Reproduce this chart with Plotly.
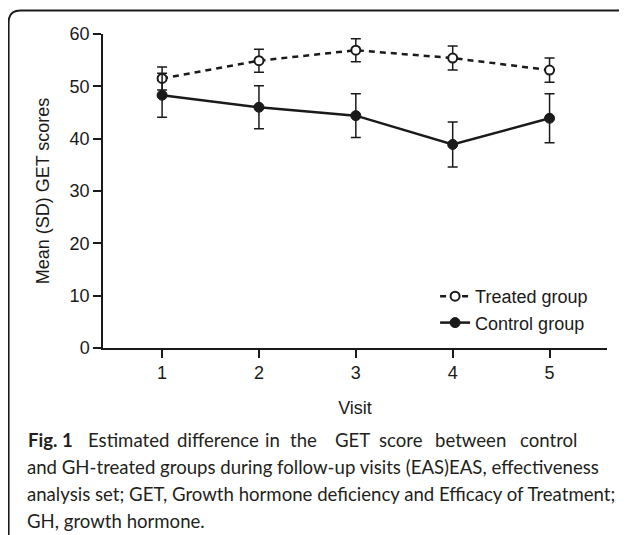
import plotly.graph_objects as go

visits = [1, 2, 3, 4, 5]
tick_labels = ["1", "2", "3", "4", "5"]
treated_mean = [51.5, 54.9, 56.9, 55.4, 53.1]
treated_sd = [2.2, 2.2, 2.2, 2.3, 2.3]
control_mean = [48.3, 46.0, 44.4, 38.9, 43.9]
control_sd = [4.2, 4.1, 4.2, 4.3, 4.7]
y_ticks = [0, 10, 20, 30, 40, 50, 60]

caption_line1_words = ["<b>Fig. 1</b>", "Estimated", "difference", "in", "the",
                       "GET", "score", "between", "control"]
caption_lines_rest = [
    "and GH-treated groups during follow-up visits (EAS)EAS, effectiveness",
    "analysis set; GET, Growth hormone deficiency and Efficacy of Treatment;",
    "GH, growth hormone.",
]

# page offset (browser body margin)
OFF = 8
W, H = 627 - OFF, 535 - OFF
# plot area in window pixels
PX0, PX1, PY0, PY1 = 103.3, 606.7, 34, 348
L = PX0 - OFF
R = W - (PX1 - OFF)
T = PY0 - OFF
B = H - (PY1 - OFF)
pw = W - L - R
ph = H - T - B

def px(x):
    return (x - OFF - L) / pw

def py(y):
    return (H - B - (y - OFF)) / ph

ink = "#1a1a1a"
fnt = "Liberation Sans, Arial, sans-serif"
cap_font = dict(family="Lato, Noto Sans, sans-serif", size=18.6, color="#231f20")

fig = go.Figure()
fig.add_trace(go.Scatter(
    x=visits, y=treated_mean, name="Treated group", mode="lines+markers",
    line=dict(color=ink, width=2.5, dash="6px,5px"),
    marker=dict(symbol="circle", size=9, color="white", line=dict(color=ink, width=2)),
    error_y=dict(type="data", array=treated_sd, visible=True, color=ink, thickness=1.5, width=5),
))
fig.add_trace(go.Scatter(
    x=visits, y=control_mean, name="Control group", mode="lines+markers",
    line=dict(color=ink, width=2.5),
    marker=dict(symbol="circle", size=10, color=ink, line=dict(color=ink, width=1)),
    error_y=dict(type="data", array=control_sd, visible=True, color=ink, thickness=1.5, width=5),
))

# Outer rounded frame
x0, y0, r = 9, 10.5, 12
path = (f"M {px(x0)},{py(H + OFF + 10)} L {px(x0)},{py(y0 + r)} "
        f"Q {px(x0)},{py(y0)} {px(x0 + r)},{py(y0)} L {px(626)},{py(y0)}")
fig.add_shape(type="path", path=path, xref="paper", yref="paper",
              line=dict(color=ink, width=2))

# Caption line 1 (justified in the original)
word_x = [26.7, 86.7, 175, 263, 288, 333, 377, 433, 518]
for w, xx in zip(caption_line1_words, word_x):
    fig.add_annotation(text=w, x=px(xx), y=py(440), xref="paper", yref="paper",
                       xanchor="left", yanchor="middle", showarrow=False, font=cap_font)
for txt, yy in zip(caption_lines_rest, [467, 494, 521]):
    fig.add_annotation(text=txt, x=px(25), y=py(yy), xref="paper", yref="paper",
                       xanchor="left", yanchor="middle", showarrow=False, font=cap_font)

fig.update_layout(
    width=W, height=H, margin=dict(l=L, r=R, t=T, b=B, pad=0),
    paper_bgcolor="white", plot_bgcolor="white",
    font=dict(family=fnt, size=18, color=ink),
    showlegend=True,
    legend=dict(x=px(435), y=py(278), xanchor="left", yanchor="top",
                bgcolor="rgba(0,0,0,0)", font=dict(size=18, color=ink),
                itemwidth=30),
    xaxis=dict(range=[0.39, 5.593], tickvals=visits, ticktext=tick_labels,
               showgrid=False, zeroline=False, showline=True, linecolor=ink, linewidth=1.5,
               ticks="outside", ticklen=8, tickwidth=1.5, tickcolor=ink,
               title=dict(text="Visit", standoff=19, font=dict(size=18))),
    yaxis=dict(range=[0, 60], tickvals=y_ticks,
               showgrid=False, zeroline=False, showline=True, linecolor=ink, linewidth=1.5,
               ticks="outside", ticklen=8, tickwidth=1.5, tickcolor=ink,
               title=dict(text="Mean (SD) GET scores", standoff=15, font=dict(size=18))),
)

fig.write_html("out.html")
